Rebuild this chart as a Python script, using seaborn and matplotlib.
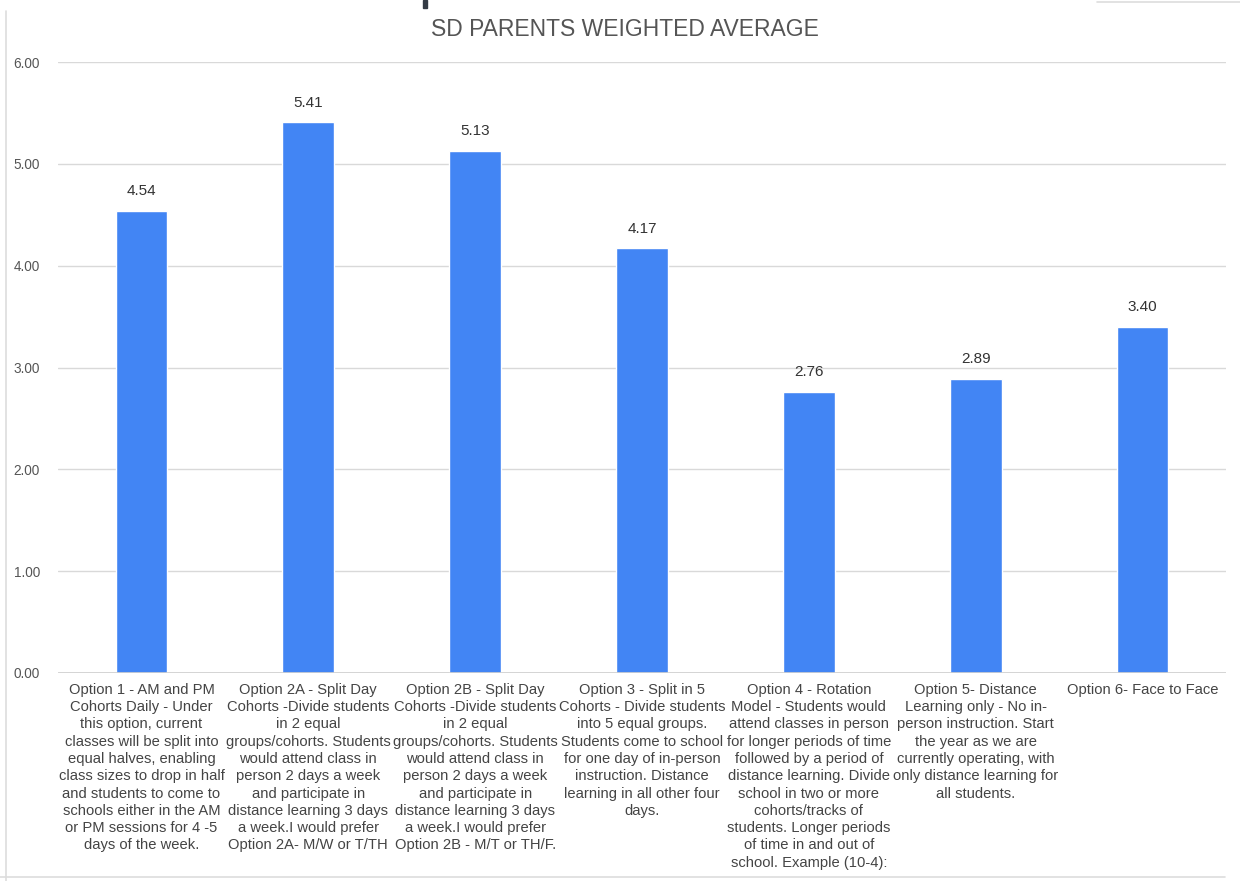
import matplotlib
matplotlib.use("Agg")
import matplotlib.pyplot as plt
from matplotlib.lines import Line2D
from matplotlib.patches import Rectangle
import seaborn as sns
import pandas as pd

# Survey options (wrapped as they appear under each bar)
options = [
    "Option 1 - AM and PM\nCohorts Daily - Under\nthis option, current\nclasses will be split into\n"
    "equal halves, enabling\nclass sizes to drop in half\nand students to come to\n"
    "schools either in the AM\nor PM sessions for 4 -5\ndays of the week.",
    "Option 2A - Split Day\nCohorts -Divide students\nin 2 equal\ngroups/cohorts. Students\n"
    "would attend class in\nperson 2 days a week\nand participate in\n"
    "distance learning 3 days\na week.I would prefer\nOption 2A- M/W or T/TH",
    "Option 2B - Split Day\nCohorts -Divide students\nin 2 equal\ngroups/cohorts. Students\n"
    "would attend class in\nperson 2 days a week\nand participate in\n"
    "distance learning 3 days\na week.I would prefer\nOption 2B - M/T or TH/F.",
    "Option 3 - Split in 5\nCohorts - Divide students\ninto 5 equal groups.\n"
    "Students come to school\nfor one day of in-person\ninstruction. Distance\n"
    "learning in all other four\ndays.",
    "Option 4 - Rotation\nModel - Students would\nattend classes in person\n"
    "for longer periods of time\nfollowed by a period of\ndistance learning. Divide\n"
    "school in two or more\ncohorts/tracks of\nstudents. Longer periods\n"
    "of time in and out of\nschool. Example (10-4):",
    "Option 5- Distance\nLearning only - No in-\nperson instruction. Start\n"
    "the year as we are\ncurrently operating, with\nonly distance learning for\nall students.",
    "Option 6- Face to Face",
]
weighted_avg = [4.54, 5.41, 5.13, 4.17, 2.76, 2.89, 3.40]
y_ticks = [0, 1, 2, 3, 4, 5, 6]

df = pd.DataFrame({"option": options, "score": weighted_avg})

sns.set_theme(style="white")
plt.rcParams["font.family"] = ["Liberation Sans", "DejaVu Sans"]

fig = plt.figure(figsize=(12.4, 8.81), dpi=100)
ax = fig.add_axes([0.0468, 0.2361, 0.9419, 0.6935])

sns.barplot(data=df, x="option", y="score", color="#4285F4", saturation=1,
            width=0.31, ax=ax, zorder=3)

ax.set_ylim(0, 6)
ax.set_xlim(-0.5, len(options) - 0.5)
ax.set_yticks(y_ticks)
ax.set_yticklabels([f"{v:.2f}" for v in y_ticks])
ax.yaxis.grid(True, color="#d9d9d9", linewidth=1.0, zorder=0)
ax.set_axisbelow(True)
for s in ax.spines.values():
    s.set_visible(False)
ax.axhline(0, color="#cfcfcf", linewidth=1.2, zorder=4)

ax.set_xlabel("")
ax.set_ylabel("")
ax.tick_params(axis="y", length=0, pad=13, labelsize=9.8, labelcolor="#555555")
ax.tick_params(axis="x", length=0, pad=7, labelsize=10.6, labelcolor="#444444")
for lbl in ax.get_xticklabels():
    lbl.set_linespacing(1.3)
    lbl.set_horizontalalignment("center")
    lbl.set_verticalalignment("top")

for i, v in enumerate(weighted_avg):
    ax.annotate(f"{v:.2f}", (i, v), xytext=(0, 9), textcoords="offset points",
                ha="center", va="bottom", fontsize=11, color="#333333")

fig.text(0.504, 0.967, "SD PARENTS WEIGHTED AVERAGE", ha="center", va="center",
         fontsize=16.5, color="#555555")

# Outer frame edges
fig.add_artist(Line2D([0.005, 0.005], [0.0, 0.987], color="#dddddd", linewidth=1.2))
fig.add_artist(Line2D([0.0, 0.988], [0.004, 0.004], color="#dddddd", linewidth=1.2))
fig.add_artist(Line2D([0.885, 1.0], [0.998, 0.998], color="#dddddd", linewidth=1.2))
fig.add_artist(Rectangle((0.341, 0.991), 0.003, 0.009, color="#333a44"))

fig.savefig("out.png", dpi=100)
